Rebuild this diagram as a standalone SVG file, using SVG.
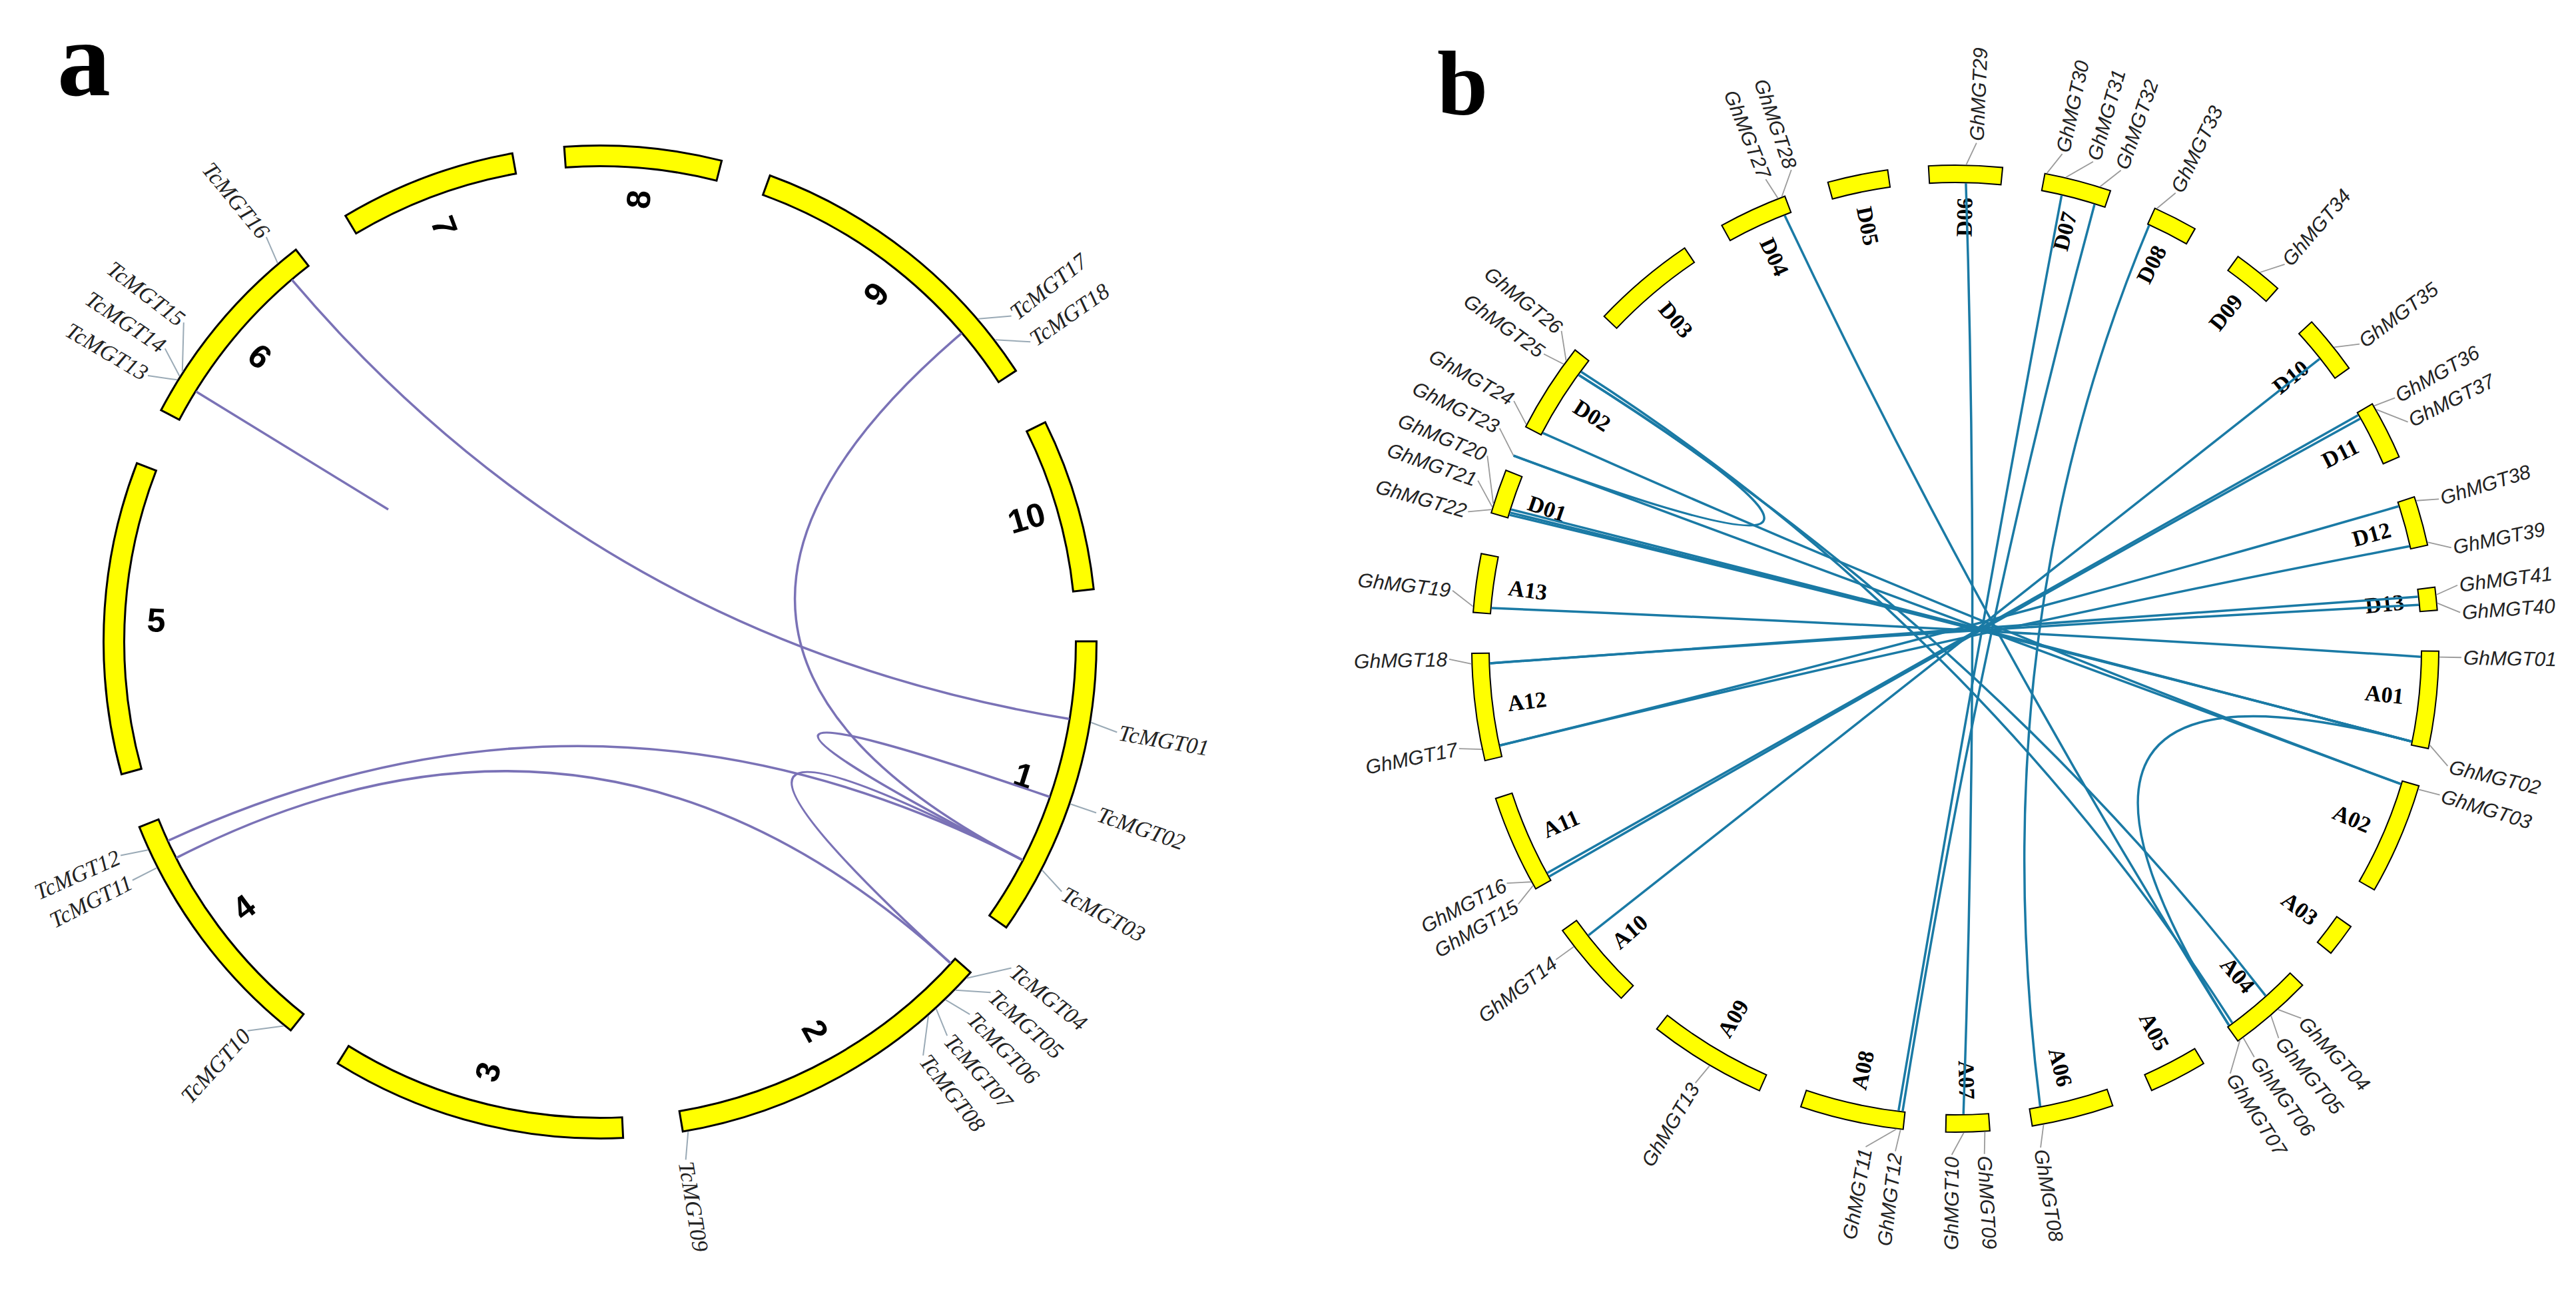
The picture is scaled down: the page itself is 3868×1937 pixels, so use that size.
<svg xmlns="http://www.w3.org/2000/svg" xmlns:xlink="http://www.w3.org/1999/xlink" width="3868" height="1937" viewBox="0 0 3868 1937">
<style>
.ka{fill:none;stroke:#000;stroke-width:34}
.ya{fill:none;stroke:#ffff00;stroke-width:28}
.kb{fill:none;stroke:#000;stroke-width:28}
.yb{fill:none;stroke:#ffff00;stroke-width:24}
.lka{fill:none;stroke:#7a72b6;stroke-width:3.5}
.lkb{fill:none;stroke:#1a7aa5;stroke-width:3.5}
.lda{stroke:#9aaab6;stroke-width:2}
.ldb{stroke:#9a9a9a;stroke-width:1.8}
.ta{font-family:"Liberation Serif",serif;font-style:italic;font-size:34px;fill:#222;dominant-baseline:central}
.tb{font-family:"Liberation Sans",Arial,sans-serif;font-style:italic;font-size:30px;fill:#222;dominant-baseline:central}
.e{text-anchor:end}
.na{font-family:"Liberation Sans",Arial,sans-serif;font-weight:bold;font-size:50px;text-anchor:middle;dominant-baseline:central}
.nb{font-family:"Liberation Serif",serif;font-weight:bold;font-size:34px;text-anchor:middle;dominant-baseline:central}
.pl{font-family:"Liberation Serif",serif;font-weight:bold}
</style>
<defs>
<circle id="ra" cx="901" cy="964" r="730" transform="rotate(-90 901 964)"/>
<circle id="rb" cx="2936" cy="974" r="713" transform="rotate(-90 2936 974)"/>
</defs>
<rect width="3868" height="1937" fill="#fff"/>
<text class="pl" x="86" y="143" font-size="160">a</text>
<text class="pl" x="2158" y="172" font-size="137">b</text>

<g id="panel-a-chromosomes">
<g id="chr1"><use href="#ra" class="ka" style="stroke-dasharray:451.03 4135.70;stroke-dashoffset:-1144.13"/><use href="#ra" class="ya" style="stroke-dasharray:445.03 4141.70;stroke-dashoffset:-1147.13"/><text class="na" transform="rotate(107.5 901 964) rotate(-90 901 297)" x="901" y="297">1</text></g>
<g id="chr2"><use href="#ra" class="ka" style="stroke-dasharray:495.62 4091.11;stroke-dashoffset:-1676.70"/><use href="#ra" class="ya" style="stroke-dasharray:489.62 4097.11;stroke-dashoffset:-1679.70"/><text class="na" transform="rotate(151.05 901 964) rotate(-90 901 297)" x="901" y="297">2</text></g>
<g id="chr3"><use href="#ra" class="ka" style="stroke-dasharray:443.38 4143.35;stroke-dashoffset:-2257.69"/><use href="#ra" class="ya" style="stroke-dasharray:437.38 4149.35;stroke-dashoffset:-2260.69"/><text class="na" transform="rotate(194.6 901 964) rotate(90 901 297)" x="901" y="297">3</text></g>
<g id="chr4"><use href="#ra" class="ka" style="stroke-dasharray:379.68 4207.05;stroke-dashoffset:-2782.61"/><use href="#ra" class="ya" style="stroke-dasharray:373.68 4213.05;stroke-dashoffset:-2785.61"/><text class="na" transform="rotate(233.3 901 964) rotate(90 901 297)" x="901" y="297">4</text></g>
<g id="chr5"><use href="#ra" class="ka" style="stroke-dasharray:468.87 4117.86;stroke-dashoffset:-3241.28"/><use href="#ra" class="ya" style="stroke-dasharray:462.87 4123.86;stroke-dashoffset:-3244.28"/><text class="na" transform="rotate(272.8 901 964) rotate(90 901 297)" x="901" y="297">5</text></g>
<g id="chr6"><use href="#ra" class="ka" style="stroke-dasharray:313.43 4273.30;stroke-dashoffset:-3792.97"/><use href="#ra" class="ya" style="stroke-dasharray:307.43 4279.30;stroke-dashoffset:-3795.97"/><text class="na" transform="rotate(310 901 964) rotate(90 901 297)" x="901" y="297">6</text></g>
<g id="chr7"><use href="#ra" class="ka" style="stroke-dasharray:266.28 4320.45;stroke-dashoffset:-4191.76"/><use href="#ra" class="ya" style="stroke-dasharray:260.28 4326.45;stroke-dashoffset:-4194.76"/><text class="na" transform="rotate(339.45 901 964) rotate(90 901 297)" x="901" y="297">7</text></g>
<g id="chr8"><use href="#ra" class="ka" style="stroke-dasharray:236.98 4349.75;stroke-dashoffset:-4531.94"/><use href="#ra" class="ya" style="stroke-dasharray:230.98 4355.75;stroke-dashoffset:-4534.94"/><text class="na" transform="rotate(5 901 964) rotate(-90 901 297)" x="901" y="297">8</text></g>
<g id="chr9"><use href="#ra" class="ka" style="stroke-dasharray:472.69 4114.04;stroke-dashoffset:-253.54"/><use href="#ra" class="ya" style="stroke-dasharray:466.69 4120.04;stroke-dashoffset:-256.54"/><text class="na" transform="rotate(38.45 901 964) rotate(-90 901 297)" x="901" y="297">9</text></g>
<g id="chr10"><use href="#ra" class="ka" style="stroke-dasharray:259.91 4326.82;stroke-dashoffset:-810.32"/><use href="#ra" class="ya" style="stroke-dasharray:253.91 4332.82;stroke-dashoffset:-813.32"/><text class="na" transform="rotate(73.8 901 964) rotate(-90 901 297)" x="901" y="297">10</text></g>
</g>

<g id="panel-a-links">
<path class="lka" d="M438.3,420.2 Q901,964 1605.6,1079.4"/>
<path class="lka" d="M294.1,587.8 L583,765"/>
<path class="lka" d="M1443.9,500.3 Q901,964 1535.5,1291.5"/>
<path class="lka" d="M1576.1,1196.5 Q901,964 1535.5,1291.5"/>
<path class="lka" d="M1535.5,1291.5 Q901,964 1427.4,1446.4"/>
<path class="lka" d="M252.3,1262.4 Q901,964 1535.5,1291.5"/>
<path class="lka" d="M264.8,1288.1 Q901,964 1427.4,1446.4"/>
</g>

<g id="panel-a-genes">
<g id="TcMGT01"><line class="lda" transform="rotate(99.3 901 964)" x1="901" y1="217" x2="909.3" y2="176"/><text class="ta" transform="rotate(99.9 901 964) rotate(-90 901 173)" x="901" y="173">TcMGT01</text></g>
<g id="TcMGT02"><line class="lda" transform="rotate(109 901 964)" x1="901" y1="217" x2="901" y2="176"/><text class="ta" transform="rotate(109 901 964) rotate(-90 901 173)" x="901" y="173">TcMGT02</text></g>
<g id="TcMGT03"><line class="lda" transform="rotate(117.3 901 964)" x1="901" y1="217" x2="916.1" y2="176.1"/><text class="ta" transform="rotate(118.4 901 964) rotate(-90 901 173)" x="901" y="173">TcMGT03</text></g>
<g id="TcMGT04"><line class="lda" transform="rotate(132.5 901 964)" x1="901" y1="217" x2="844.7" y2="178"/><text class="ta" transform="rotate(128.4 901 964) rotate(-90 901 173)" x="901" y="173">TcMGT04</text></g>
<g id="TcMGT05"><line class="lda" transform="rotate(134.4 901 964)" x1="901" y1="217" x2="866.6" y2="176.8"/><text class="ta" transform="rotate(131.9 901 964) rotate(-90 901 173)" x="901" y="173">TcMGT05</text></g>
<g id="TcMGT06"><line class="lda" transform="rotate(136 901 964)" x1="901" y1="217" x2="890" y2="176.1"/><text class="ta" transform="rotate(135.2 901 964) rotate(-90 901 173)" x="901" y="173">TcMGT06</text></g>
<g id="TcMGT07"><line class="lda" transform="rotate(137.5 901 964)" x1="901" y1="217" x2="916.1" y2="176.1"/><text class="ta" transform="rotate(138.6 901 964) rotate(-90 901 173)" x="901" y="173">TcMGT07</text></g>
<g id="TcMGT08"><line class="lda" transform="rotate(138.7 901 964)" x1="901" y1="217" x2="946.4" y2="177.3"/><text class="ta" transform="rotate(142 901 964) rotate(-90 901 173)" x="901" y="173">TcMGT08</text></g>
<g id="TcMGT09"><line class="lda" transform="rotate(169.8 901 964)" x1="901" y1="217" x2="912" y2="176.1"/><text class="ta" transform="rotate(170.6 901 964) rotate(-90 901 173)" x="901" y="173">TcMGT09</text></g>
<g id="TcMGT10"><line class="lda" transform="rotate(219.5 901 964)" x1="901" y1="217" x2="938.1" y2="176.9"/><text class="ta e" transform="rotate(222.2 901 964) rotate(90 901 173)" x="901" y="173">TcMGT10</text></g>
<g id="TcMGT11"><line class="lda" transform="rotate(243 901 964)" x1="901" y1="217" x2="901" y2="176"/><text class="ta e" transform="rotate(243 901 964) rotate(90 901 173)" x="901" y="173">TcMGT11</text></g>
<g id="TcMGT12"><line class="lda" transform="rotate(245.3 901 964)" x1="901" y1="217" x2="910.6" y2="176"/><text class="ta e" transform="rotate(246 901 964) rotate(90 901 173)" x="901" y="173">TcMGT12</text></g>
<g id="TcMGT13"><line class="lda" transform="rotate(301.8 901 964)" x1="901" y1="217" x2="883.1" y2="176.2"/><text class="ta e" transform="rotate(300.5 901 964) rotate(90 901 173)" x="901" y="173">TcMGT13</text></g>
<g id="TcMGT14"><line class="lda" transform="rotate(302.3 901 964)" x1="901" y1="217" x2="924.4" y2="176.4"/><text class="ta e" transform="rotate(304 901 964) rotate(90 901 173)" x="901" y="173">TcMGT14</text></g>
<g id="TcMGT15"><line class="lda" transform="rotate(302.9 901 964)" x1="901" y1="217" x2="964.2" y2="178.5"/><text class="ta e" transform="rotate(307.5 901 964) rotate(90 901 173)" x="901" y="173">TcMGT15</text></g>
<g id="TcMGT16"><line class="lda" transform="rotate(319.6 901 964)" x1="901" y1="217" x2="913.4" y2="176.1"/><text class="ta e" transform="rotate(320.5 901 964) rotate(90 901 173)" x="901" y="173">TcMGT16</text></g>
<g id="TcMGT17"><line class="lda" transform="rotate(49.5 901 964)" x1="901" y1="217" x2="929.9" y2="176.5"/><text class="ta" transform="rotate(51.6 901 964) rotate(-90 901 173)" x="901" y="173">TcMGT17</text></g>
<g id="TcMGT18"><line class="lda" transform="rotate(52.6 901 964)" x1="901" y1="217" x2="935.4" y2="176.8"/><text class="ta" transform="rotate(55.1 901 964) rotate(-90 901 173)" x="901" y="173">TcMGT18</text></g>
</g>

<g id="panel-b-chromosomes">
<g id="D06"><use href="#rb" class="kb" style="stroke-dasharray:112 4367.91;stroke-dashoffset:-4438.85"/><use href="#rb" class="yb" style="stroke-dasharray:108 4371.91;stroke-dashoffset:-4440.85"/><text class="nb" transform="rotate(1.2 2936 974) rotate(-90 2936 326)" x="2936" y="326">D06</text></g>
<g id="D07"><use href="#rb" class="kb" style="stroke-dasharray:102.04 4377.87;stroke-dashoffset:-131.91"/><use href="#rb" class="yb" style="stroke-dasharray:98.04 4381.87;stroke-dashoffset:-133.91"/><text class="nb" transform="rotate(14.7 2936 974) rotate(-90 2936 326)" x="2936" y="326">D07</text></g>
<g id="D08"><use href="#rb" class="kb" style="stroke-dasharray:68.44 4411.47;stroke-dashoffset:-302.39"/><use href="#rb" class="yb" style="stroke-dasharray:64.44 4415.47;stroke-dashoffset:-304.39"/><text class="nb" transform="rotate(27.05 2936 974) rotate(-90 2936 326)" x="2936" y="326">D08</text></g>
<g id="D09"><use href="#rb" class="kb" style="stroke-dasharray:77.15 4402.76;stroke-dashoffset:-444.26"/><use href="#rb" class="yb" style="stroke-dasharray:73.15 4406.76;stroke-dashoffset:-446.26"/><text class="nb" transform="rotate(38.8 2936 974) rotate(-90 2936 326)" x="2936" y="326">D09</text></g>
<g id="D10"><use href="#rb" class="kb" style="stroke-dasharray:89.6 4390.31;stroke-dashoffset:-589.86"/><use href="#rb" class="yb" style="stroke-dasharray:85.6 4394.31;stroke-dashoffset:-591.86"/><text class="nb" transform="rotate(51 2936 974) rotate(-90 2936 326)" x="2936" y="326">D10</text></g>
<g id="D11"><use href="#rb" class="kb" style="stroke-dasharray:89.6 4390.31;stroke-dashoffset:-740.43"/><use href="#rb" class="yb" style="stroke-dasharray:85.6 4394.31;stroke-dashoffset:-742.43"/><text class="nb" transform="rotate(63.1 2936 974) rotate(-90 2936 326)" x="2936" y="326">D11</text></g>
<g id="D12"><use href="#rb" class="kb" style="stroke-dasharray:75.91 4404;stroke-dashoffset:-891"/><use href="#rb" class="yb" style="stroke-dasharray:71.91 4408;stroke-dashoffset:-893"/><text class="nb" transform="rotate(74.65 2936 974) rotate(-90 2936 326)" x="2936" y="326">D12</text></g>
<g id="D13"><use href="#rb" class="kb" style="stroke-dasharray:36.09 4443.82;stroke-dashoffset:-1027.89"/><use href="#rb" class="yb" style="stroke-dasharray:32.09 4447.82;stroke-dashoffset:-1029.89"/><text class="nb" transform="rotate(84.05 2936 974) rotate(-90 2936 326)" x="2936" y="326">D13</text></g>
<g id="A01"><use href="#rb" class="kb" style="stroke-dasharray:146.84 4333.07;stroke-dashoffset:-1122.47"/><use href="#rb" class="yb" style="stroke-dasharray:142.84 4337.07;stroke-dashoffset:-1124.47"/><text class="nb" transform="rotate(96.1 2936 974) rotate(-90 2936 326)" x="2936" y="326">A01</text></g>
<g id="A02"><use href="#rb" class="kb" style="stroke-dasharray:169.24 4310.67;stroke-dashoffset:-1324.06"/><use href="#rb" class="yb" style="stroke-dasharray:165.24 4314.67;stroke-dashoffset:-1326.06"/><text class="nb" transform="rotate(113.2 2936 974) rotate(-90 2936 326)" x="2936" y="326">A02</text></g>
<g id="A03"><use href="#rb" class="kb" style="stroke-dasharray:51.02 4428.89;stroke-dashoffset:-1555.53"/><use href="#rb" class="yb" style="stroke-dasharray:47.02 4432.89;stroke-dashoffset:-1557.53"/><text class="nb" transform="rotate(127.05 2936 974) rotate(-90 2936 326)" x="2936" y="326">A03</text></g>
<g id="A04"><use href="#rb" class="kb" style="stroke-dasharray:128.18 4351.73;stroke-dashoffset:-1667.52"/><use href="#rb" class="yb" style="stroke-dasharray:124.18 4355.73;stroke-dashoffset:-1669.52"/><text class="nb" transform="rotate(139.15 2936 974) rotate(-90 2936 326)" x="2936" y="326">A04</text></g>
<g id="A05"><use href="#rb" class="kb" style="stroke-dasharray:88.35 4391.56;stroke-dashoffset:-1854.19"/><use href="#rb" class="yb" style="stroke-dasharray:84.35 4395.56;stroke-dashoffset:-1856.19"/><text class="nb" transform="rotate(152.55 2936 974) rotate(-90 2936 326)" x="2936" y="326">A05</text></g>
<g id="A06"><use href="#rb" class="kb" style="stroke-dasharray:124.44 4355.47;stroke-dashoffset:-2002.27"/><use href="#rb" class="yb" style="stroke-dasharray:120.44 4359.47;stroke-dashoffset:-2004.27"/><text class="nb" transform="rotate(165.9 2936 974) rotate(-90 2936 326)" x="2936" y="326">A06</text></g>
<g id="A07"><use href="#rb" class="kb" style="stroke-dasharray:67.2 4412.71;stroke-dashoffset:-2187.69"/><use href="#rb" class="yb" style="stroke-dasharray:63.2 4416.71;stroke-dashoffset:-2189.69"/><text class="nb" transform="rotate(178.5 2936 974) rotate(-90 2936 326)" x="2936" y="326">A07</text></g>
<g id="A08"><use href="#rb" class="kb" style="stroke-dasharray:156.8 4323.11;stroke-dashoffset:-2315.87"/><use href="#rb" class="yb" style="stroke-dasharray:152.8 4327.11;stroke-dashoffset:-2317.87"/><text class="nb" transform="rotate(192.4 2936 974) rotate(90 2936 326)" x="2936" y="326">A08</text></g>
<g id="A09"><use href="#rb" class="kb" style="stroke-dasharray:179.2 4300.71;stroke-dashoffset:-2536.13"/><use href="#rb" class="yb" style="stroke-dasharray:175.2 4304.71;stroke-dashoffset:-2538.13"/><text class="nb" transform="rotate(211 2936 974) rotate(90 2936 326)" x="2936" y="326">A09</text></g>
<g id="A10"><use href="#rb" class="kb" style="stroke-dasharray:134.4 4345.51;stroke-dashoffset:-2782.52"/><use href="#rb" class="yb" style="stroke-dasharray:130.4 4349.51;stroke-dashoffset:-2784.52"/><text class="nb" transform="rotate(229 2936 974) rotate(90 2936 326)" x="2936" y="326">A10</text></g>
<g id="A11"><use href="#rb" class="kb" style="stroke-dasharray:148.09 4331.82;stroke-dashoffset:-2987.85"/><use href="#rb" class="yb" style="stroke-dasharray:144.09 4335.82;stroke-dashoffset:-2989.85"/><text class="nb" transform="rotate(246.05 2936 974) rotate(90 2936 326)" x="2936" y="326">A11</text></g>
<g id="A12"><use href="#rb" class="kb" style="stroke-dasharray:161.77 4318.14;stroke-dashoffset:-3191.94"/><use href="#rb" class="yb" style="stroke-dasharray:157.77 4322.14;stroke-dashoffset:-3193.94"/><text class="nb" transform="rotate(263 2936 974) rotate(90 2936 326)" x="2936" y="326">A12</text></g>
<g id="A13"><use href="#rb" class="kb" style="stroke-dasharray:89.6 4390.31;stroke-dashoffset:-3412.2"/><use href="#rb" class="yb" style="stroke-dasharray:85.6 4394.31;stroke-dashoffset:-3414.2"/><text class="nb" transform="rotate(277.8 2936 974) rotate(90 2936 326)" x="2936" y="326">A13</text></g>
<g id="D01"><use href="#rb" class="kb" style="stroke-dasharray:68.44 4411.47;stroke-dashoffset:-3561.53"/><use href="#rb" class="yb" style="stroke-dasharray:64.44 4415.47;stroke-dashoffset:-3563.53"/><text class="nb" transform="rotate(288.95 2936 974) rotate(90 2936 326)" x="2936" y="326">D01</text></g>
<g id="D02"><use href="#rb" class="kb" style="stroke-dasharray:136.89 4343.02;stroke-dashoffset:-3698.42"/><use href="#rb" class="yb" style="stroke-dasharray:132.89 4347.02;stroke-dashoffset:-3700.42"/><text class="nb" transform="rotate(302.7 2936 974) rotate(90 2936 326)" x="2936" y="326">D02</text></g>
<g id="D03"><use href="#rb" class="kb" style="stroke-dasharray:158.04 4321.87;stroke-dashoffset:-3898.77"/><use href="#rb" class="yb" style="stroke-dasharray:154.04 4325.87;stroke-dashoffset:-3900.77"/><text class="nb" transform="rotate(319.65 2936 974) rotate(90 2936 326)" x="2936" y="326">D03</text></g>
<g id="D04"><use href="#rb" class="kb" style="stroke-dasharray:104.53 4375.38;stroke-dashoffset:-4119.03"/><use href="#rb" class="yb" style="stroke-dasharray:100.53 4379.38;stroke-dashoffset:-4121.03"/><text class="nb" transform="rotate(335.2 2936 974) rotate(90 2936 326)" x="2936" y="326">D04</text></g>
<g id="D05"><use href="#rb" class="kb" style="stroke-dasharray:92.09 4387.82;stroke-dashoffset:-4288.27"/><use href="#rb" class="yb" style="stroke-dasharray:88.09 4391.82;stroke-dashoffset:-4290.27"/><text class="nb" transform="rotate(348.3 2936 974) rotate(90 2936 326)" x="2936" y="326">D05</text></g>
</g>

<g id="panel-b-links">
<path class="lkb" d="M2951.9,275.2 Q2973,943 2948.2,1672.9"/>
<path class="lkb" d="M3095.6,293.5 Q2973,943 2850.8,1667.8"/>
<path class="lkb" d="M3145,307 Q2973,943 2856.9,1668.5"/>
<path class="lkb" d="M3227,338.4 Q2973,943 3063.4,1661.3"/>
<path class="lkb" d="M2679.8,323.6 Q2973,943 3346.9,1539.5"/>
<path class="lkb" d="M2370.5,563.1 Q2973,943 3401.9,1495.1"/>
<path class="lkb" d="M2374.1,558.2 Q2973,943 3351.8,1535.9"/>
<path class="lkb" d="M2370.5,563.1 Q2973,943 2272.6,684.1"/>
<path class="lkb" d="M3621,1113.4 Q2973,943 3346.9,1539.5"/>
<path class="lkb" d="M2272.6,684.1 Q2973,943 3604.8,1177.2"/>
<path class="lkb" d="M2316.5,650.2 Q2973,943 3604.8,1177.2"/>
<path class="lkb" d="M2269,765 Q2973,943 3621,1113.4"/>
<path class="lkb" d="M2267.5,769.6 Q2973,943 3621,1113.4"/>
<path class="lkb" d="M2266.5,773.1 Q2973,943 3621,1113.4"/>
<path class="lkb" d="M2239.7,913.1 Q2973,943 3634.9,986.2"/>
<path class="lkb" d="M2237.3,996 Q2973,943 3630.6,896.1"/>
<path class="lkb" d="M2237.3,996 Q2973,943 3631.9,908.2"/>
<path class="lkb" d="M2252.3,1119.3 Q2973,943 3601.5,760.3"/>
<path class="lkb" d="M2252.3,1119.3 Q2973,943 3617.9,820.3"/>
<path class="lkb" d="M2323.5,1310.7 Q2973,943 3540.7,623.4"/>
<path class="lkb" d="M2326.4,1316.1 Q2973,943 3543.8,628.7"/>
<path class="lkb" d="M2385.2,1404.3 Q2973,943 3483,538.9"/>
</g>

<g id="panel-b-genes">
<g id="GhMGT01"><line class="ldb" transform="rotate(91 2936 974)" x1="2936" y1="247" x2="2936" y2="214"/><text class="tb" transform="rotate(91 2936 974) rotate(-90 2936 211)" x="2936" y="211">GhMGT01</text></g>
<g id="GhMGT02"><line class="ldb" transform="rotate(101.5 2936 974)" x1="2936" y1="247" x2="2961.2" y2="214.4"/><text class="tb" transform="rotate(103.4 2936 974) rotate(-90 2936 211)" x="2936" y="211">GhMGT02</text></g>
<g id="GhMGT03"><line class="ldb" transform="rotate(106.9 2936 974)" x1="2936" y1="247" x2="2934.7" y2="214"/><text class="tb" transform="rotate(106.8 2936 974) rotate(-90 2936 211)" x="2936" y="211">GhMGT03</text></g>
<g id="GhMGT04"><line class="ldb" transform="rotate(138.2 2936 974)" x1="2936" y1="247" x2="2918.8" y2="214.2"/><text class="tb" transform="rotate(136.9 2936 974) rotate(-90 2936 211)" x="2936" y="211">GhMGT04</text></g>
<g id="GhMGT05"><line class="ldb" transform="rotate(139.3 2936 974)" x1="2936" y1="247" x2="2949.3" y2="214.1"/><text class="tb" transform="rotate(140.3 2936 974) rotate(-90 2936 211)" x="2936" y="211">GhMGT05</text></g>
<g id="GhMGT06"><line class="ldb" transform="rotate(143.5 2936 974)" x1="2936" y1="247" x2="2940" y2="214"/><text class="tb" transform="rotate(143.8 2936 974) rotate(-90 2936 211)" x="2936" y="211">GhMGT06</text></g>
<g id="GhMGT07"><line class="ldb" transform="rotate(144 2936 974)" x1="2936" y1="247" x2="2977.1" y2="215.1"/><text class="tb" transform="rotate(147.1 2936 974) rotate(-90 2936 211)" x="2936" y="211">GhMGT07</text></g>
<g id="GhMGT08"><line class="ldb" transform="rotate(169.5 2936 974)" x1="2936" y1="247" x2="2946.6" y2="214.1"/><text class="tb" transform="rotate(170.3 2936 974) rotate(-90 2936 211)" x="2936" y="211">GhMGT08</text></g>
<g id="GhMGT09"><line class="ldb" transform="rotate(176.5 2936 974)" x1="2936" y1="247" x2="2938.7" y2="214"/><text class="tb" transform="rotate(176.7 2936 974) rotate(-90 2936 211)" x="2936" y="211">GhMGT09</text></g>
<g id="GhMGT10"><line class="ldb" transform="rotate(179 2936 974)" x1="2936" y1="247" x2="2954.6" y2="214.2"/><text class="tb e" transform="rotate(180.4 2936 974) rotate(90 2936 211)" x="2936" y="211">GhMGT10</text></g>
<g id="GhMGT11"><line class="ldb" transform="rotate(187 2936 974)" x1="2936" y1="247" x2="2978.4" y2="215.2"/><text class="tb e" transform="rotate(190.2 2936 974) rotate(90 2936 211)" x="2936" y="211">GhMGT11</text></g>
<g id="GhMGT12"><line class="ldb" transform="rotate(186.5 2936 974)" x1="2936" y1="247" x2="2940" y2="214"/><text class="tb e" transform="rotate(186.8 2936 974) rotate(90 2936 211)" x="2936" y="211">GhMGT12</text></g>
<g id="GhMGT13"><line class="ldb" transform="rotate(210.5 2936 974)" x1="2936" y1="247" x2="2941.3" y2="214"/><text class="tb e" transform="rotate(210.9 2936 974) rotate(90 2936 211)" x="2936" y="211">GhMGT13</text></g>
<g id="GhMGT14"><line class="ldb" transform="rotate(232 2936 974)" x1="2936" y1="247" x2="2937.3" y2="214"/><text class="tb e" transform="rotate(232.1 2936 974) rotate(90 2936 211)" x="2936" y="211">GhMGT14</text></g>
<g id="GhMGT15"><line class="ldb" transform="rotate(240.7 2936 974)" x1="2936" y1="247" x2="2922.7" y2="214.1"/><text class="tb e" transform="rotate(239.7 2936 974) rotate(90 2936 211)" x="2936" y="211">GhMGT15</text></g>
<g id="GhMGT16"><line class="ldb" transform="rotate(241.2 2936 974)" x1="2936" y1="247" x2="2951.9" y2="214.2"/><text class="tb e" transform="rotate(242.4 2936 974) rotate(90 2936 211)" x="2936" y="211">GhMGT16</text></g>
<g id="GhMGT17"><line class="ldb" transform="rotate(258 2936 974)" x1="2936" y1="247" x2="2944" y2="214"/><text class="tb e" transform="rotate(258.6 2936 974) rotate(90 2936 211)" x="2936" y="211">GhMGT17</text></g>
<g id="GhMGT18"><line class="ldb" transform="rotate(268.2 2936 974)" x1="2936" y1="247" x2="2944" y2="214"/><text class="tb e" transform="rotate(268.8 2936 974) rotate(90 2936 211)" x="2936" y="211">GhMGT18</text></g>
<g id="GhMGT19"><line class="ldb" transform="rotate(275 2936 974)" x1="2936" y1="247" x2="2957.2" y2="214.3"/><text class="tb e" transform="rotate(276.6 2936 974) rotate(90 2936 211)" x="2936" y="211">GhMGT19</text></g>
<g id="GhMGT20"><line class="ldb" transform="rotate(287.4 2936 974)" x1="2936" y1="247" x2="3002.2" y2="216.9"/><text class="tb e" transform="rotate(292.4 2936 974) rotate(90 2936 211)" x="2936" y="211">GhMGT20</text></g>
<g id="GhMGT21"><line class="ldb" transform="rotate(287 2936 974)" x1="2936" y1="247" x2="2967.8" y2="214.7"/><text class="tb e" transform="rotate(289.4 2936 974) rotate(90 2936 211)" x="2936" y="211">GhMGT21</text></g>
<g id="GhMGT22"><line class="ldb" transform="rotate(286.7 2936 974)" x1="2936" y1="247" x2="2922.7" y2="214.1"/><text class="tb e" transform="rotate(285.7 2936 974) rotate(90 2936 211)" x="2936" y="211">GhMGT22</text></g>
<g id="GhMGT23"><line class="ldb" transform="rotate(293.6 2936 974)" x1="2936" y1="250" x2="2965.2" y2="214.6"/><text class="tb e" transform="rotate(295.8 2936 974) rotate(90 2936 211)" x="2936" y="211">GhMGT23</text></g>
<g id="GhMGT24"><line class="ldb" transform="rotate(297.6 2936 974)" x1="2936" y1="247" x2="2958.5" y2="214.3"/><text class="tb e" transform="rotate(299.3 2936 974) rotate(90 2936 211)" x="2936" y="211">GhMGT24</text></g>
<g id="GhMGT25"><line class="ldb" transform="rotate(306 2936 974)" x1="2936" y1="247" x2="2930.7" y2="214"/><text class="tb e" transform="rotate(305.6 2936 974) rotate(90 2936 211)" x="2936" y="211">GhMGT25</text></g>
<g id="GhMGT26"><line class="ldb" transform="rotate(306.5 2936 974)" x1="2936" y1="247" x2="2967.8" y2="214.7"/><text class="tb e" transform="rotate(308.9 2936 974) rotate(90 2936 211)" x="2936" y="211">GhMGT26</text></g>
<g id="GhMGT27"><line class="ldb" transform="rotate(338.5 2936 974)" x1="2936" y1="247" x2="2929.4" y2="214"/><text class="tb e" transform="rotate(338 2936 974) rotate(90 2936 211)" x="2936" y="211">GhMGT27</text></g>
<g id="GhMGT28"><line class="ldb" transform="rotate(339 2936 974)" x1="2936" y1="247" x2="2963.8" y2="214.5"/><text class="tb e" transform="rotate(341.1 2936 974) rotate(90 2936 211)" x="2936" y="211">GhMGT28</text></g>
<g id="GhMGT29"><line class="ldb" transform="rotate(1.3 2936 974)" x1="2936" y1="247" x2="2950.6" y2="214.1"/><text class="tb" transform="rotate(2.4 2936 974) rotate(-90 2936 211)" x="2936" y="211">GhMGT29</text></g>
<g id="GhMGT30"><line class="ldb" transform="rotate(10.9 2936 974)" x1="2936" y1="247" x2="2953.2" y2="214.2"/><text class="tb" transform="rotate(12.2 2936 974) rotate(-90 2936 211)" x="2936" y="211">GhMGT30</text></g>
<g id="GhMGT31"><line class="ldb" transform="rotate(13.2 2936 974)" x1="2936" y1="247" x2="2970.5" y2="214.8"/><text class="tb" transform="rotate(15.8 2936 974) rotate(-90 2936 211)" x="2936" y="211">GhMGT31</text></g>
<g id="GhMGT32"><line class="ldb" transform="rotate(17.4 2936 974)" x1="2936" y1="247" x2="2958.5" y2="214.3"/><text class="tb" transform="rotate(19.1 2936 974) rotate(-90 2936 211)" x="2936" y="211">GhMGT32</text></g>
<g id="GhMGT33"><line class="ldb" transform="rotate(24.6 2936 974)" x1="2936" y1="247" x2="2951.9" y2="214.2"/><text class="tb" transform="rotate(25.8 2936 974) rotate(-90 2936 211)" x="2936" y="211">GhMGT33</text></g>
<g id="GhMGT34"><line class="ldb" transform="rotate(39 2936 974)" x1="2936" y1="247" x2="2957.2" y2="214.3"/><text class="tb" transform="rotate(40.6 2936 974) rotate(-90 2936 211)" x="2936" y="211">GhMGT34</text></g>
<g id="GhMGT35"><line class="ldb" transform="rotate(51.5 2936 974)" x1="2936" y1="247" x2="2955.9" y2="214.3"/><text class="tb" transform="rotate(53 2936 974) rotate(-90 2936 211)" x="2936" y="211">GhMGT35</text></g>
<g id="GhMGT36"><line class="ldb" transform="rotate(59.9 2936 974)" x1="2936" y1="247" x2="2941.3" y2="214"/><text class="tb" transform="rotate(60.3 2936 974) rotate(-90 2936 211)" x="2936" y="211">GhMGT36</text></g>
<g id="GhMGT37"><line class="ldb" transform="rotate(60.4 2936 974)" x1="2936" y1="247" x2="2975.8" y2="215"/><text class="tb" transform="rotate(63.4 2936 974) rotate(-90 2936 211)" x="2936" y="211">GhMGT37</text></g>
<g id="GhMGT38"><line class="ldb" transform="rotate(72.2 2936 974)" x1="2936" y1="247" x2="2944" y2="214"/><text class="tb" transform="rotate(72.8 2936 974) rotate(-90 2936 211)" x="2936" y="211">GhMGT38</text></g>
<g id="GhMGT39"><line class="ldb" transform="rotate(77.3 2936 974)" x1="2936" y1="247" x2="2951.9" y2="214.2"/><text class="tb" transform="rotate(78.5 2936 974) rotate(-90 2936 211)" x="2936" y="211">GhMGT39</text></g>
<g id="GhMGT40"><line class="ldb" transform="rotate(84.6 2936 974)" x1="2936" y1="247" x2="2953.2" y2="214.2"/><text class="tb" transform="rotate(85.9 2936 974) rotate(-90 2936 211)" x="2936" y="211">GhMGT40</text></g>
<g id="GhMGT41"><line class="ldb" transform="rotate(83.6 2936 974)" x1="2936" y1="247" x2="2925.4" y2="214.1"/><text class="tb" transform="rotate(82.8 2936 974) rotate(-90 2936 211)" x="2936" y="211">GhMGT41</text></g>
</g>
</svg>
